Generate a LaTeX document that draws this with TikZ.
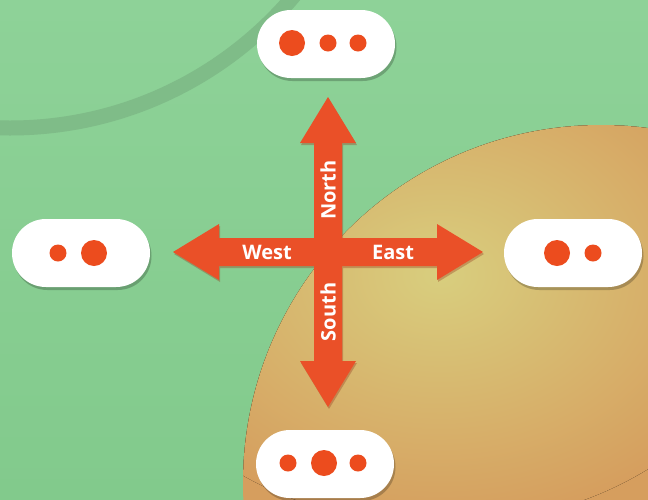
\documentclass[tikz,border=0pt]{standalone}
\usepackage{fontspec}
\setmainfont{Open Sans}
\usetikzlibrary{shadows}
\definecolor{bgtop}{RGB}{142,210,152}
\definecolor{bgbot}{RGB}{130,202,140}
\definecolor{arcgray}{RGB}{127,188,136}
\definecolor{discouter}{RGB}{214,158,94}
\definecolor{glow}{RGB}{216,206,126}
\definecolor{arrowred}{RGB}{234,80,40}
\definecolor{arrowdark}{RGB}{150,55,30}
\definecolor{dotred}{RGB}{236,76,30}
\begin{document}
\begin{tikzpicture}[x=1pt,y=-1pt,
  pill/.style={draw=none, fill=white, rectangle, rounded corners=33.9pt,
    minimum width=138pt, minimum height=68pt, inner sep=0pt,
    drop shadow={shadow xshift=1.5pt, shadow yshift=-3pt, opacity=0.22, fill=black}},
  bigdot/.style={circle, fill=dotred, minimum size=26pt, inner sep=0pt},
  smalldot/.style={circle, fill=dotred, minimum size=17pt, inner sep=0pt},
  dirtext/.style={text=white, font=\bfseries\fontsize{20}{24}\selectfont, inner sep=0pt},
  crossarrow/.style={fill=arrowred,
    drop shadow={shadow xshift=1pt, shadow yshift=-2pt, opacity=0.35, fill=arrowdark}}
]
\useasboundingbox (0,0) rectangle (648,499);
\clip (0,0) rectangle (648,499);
% background
\fill[top color=bgtop, bottom color=bgbot] (0,0) rectangle (648,499);
% faint arc
\draw[arcgray, line width=15pt] (10,-243) circle[radius=371];
% orange disc with a soft yellow glow
\begin{scope}
  \clip (601,483) circle[radius=358];
  \fill[discouter] (601,483) circle[radius=358];
  \fill[inner color=glow, outer color=discouter] (440,275) ellipse [x radius=330, y radius=250];
\end{scope}
% cross of arrows
\coordinate (c) at (328,252);
\begin{scope}[shift={(c)}]
  \fill[crossarrow] (14,-14) -- (14,-109) -- (28,-109) -- (0,-155) -- (-28,-109) -- (-14,-109)
    -- (-14,-14) -- (-109,-14) -- (-109,-28) -- (-155,0) -- (-109,28) -- (-109,14)
    -- (-14,14) -- (-14,109) -- (-28,109) -- (0,155) -- (28,109) -- (14,109)
    -- (14,14) -- (109,14) -- (109,28) -- (155,0) -- (109,-28) -- (109,-14) -- cycle;
\end{scope}
\node[dirtext] (west) at (267,252) {West};
\node[dirtext] (east) at (393,252) {East};
\node[dirtext, rotate=90] (north) at (328,190) {North};
\node[dirtext, rotate=90] (south) at (328,312) {South};
% pills
\node[pill] (ptop) at (326,44) {};
\node[pill] (pleft) at (81,253) {};
\node[pill] (pright) at (573,253) {};
\node[pill] (pbot) at (325,464) {};
% dots
\node[bigdot] (t1) at (292,43) {};
\node[smalldot] (t2) at (328,43) {};
\node[smalldot] (t3) at (358,43) {};
\node[smalldot] (l1) at (58,253) {};
\node[bigdot] (l2) at (94,253) {};
\node[bigdot] (r1) at (557,253) {};
\node[smalldot] (r2) at (593,253) {};
\node[smalldot] (b1) at (288,463) {};
\node[bigdot] (b2) at (324,463) {};
\node[smalldot] (b3) at (358,463) {};
\end{tikzpicture}
\end{document}
